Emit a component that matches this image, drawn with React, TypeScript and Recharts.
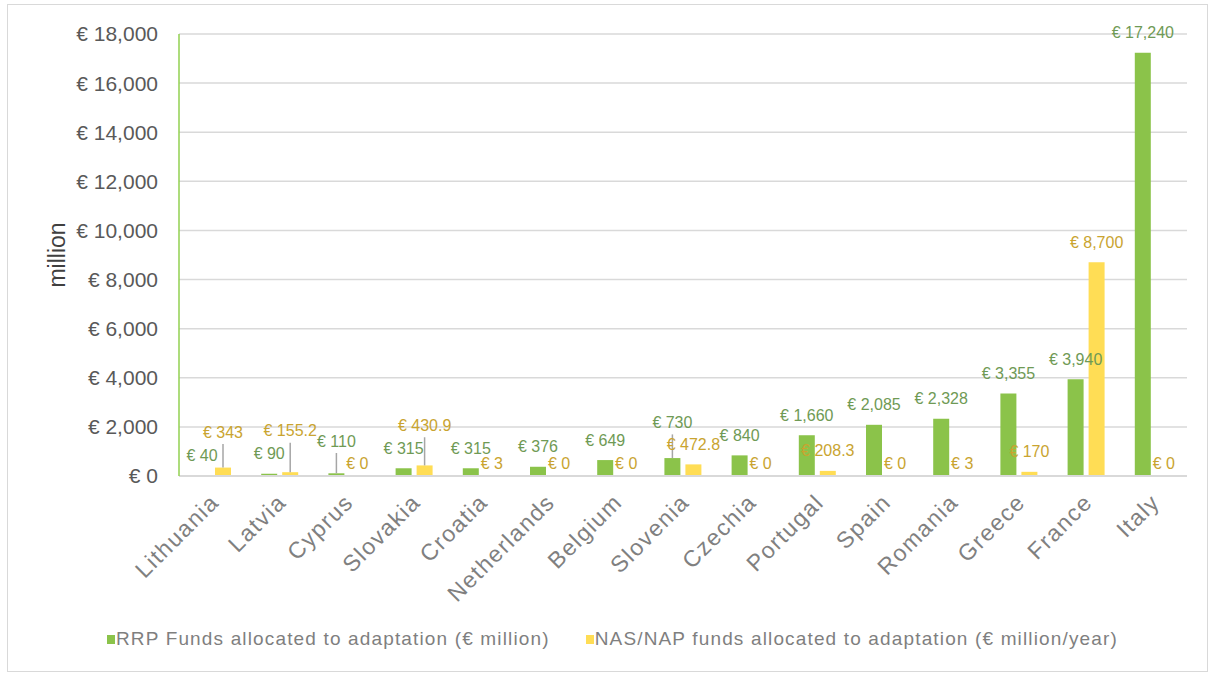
import { BarChart, Bar, XAxis, YAxis, CartesianGrid, Legend, LabelList, Label } from 'recharts';

const countries = ['Lithuania', 'Latvia', 'Cyprus', 'Slovakia', 'Croatia', 'Netherlands', 'Belgium', 'Slovenia', 'Czechia', 'Portugal', 'Spain', 'Romania', 'Greece', 'France', 'Italy'];
const rrpFunds = [40, 90, 110, 315, 315, 376, 649, 730, 840, 1660, 2085, 2328, 3355, 3940, 17240];
const nasFunds = [343, 155.2, 0, 430.9, 3, 0, 0, 472.8, 0, 208.3, 0, 3, 170, 8700, 0];
const yTicks = [0, 2000, 4000, 6000, 8000, 10000, 12000, 14000, 16000, 18000];

const GREEN = '#8bc34a';
const YELLOW = '#ffdd55';
const GREEN_TEXT = '#6f9a55';
const YELLOW_TEXT = '#c9a430';
const FONT = '"Liberation Sans", Arial, sans-serif';

const CHART_W = 1199;
const CHART_H = 666;
const TOP = 29;
const X_AXIS_H = 159;
const LEGEND_H = 36;
const PLOT_H = CHART_H - TOP - X_AXIS_H - LEGEND_H;
const Y_MAX = 18000;

const rrpLabel = 'RRP Funds allocated to adaptation (€ million)';
const nasLabel = 'NAS/NAP funds allocated to adaptation (€ million/year)';

const data = countries.map((name, i) => ({ name, rrp: rrpFunds[i], nas: nasFunds[i] }));

const euro = (v: number) => `€ ${v.toLocaleString('en-US')}`;

// where the two value labels of one country sit; the higher bar's label is
// lifted (with a leader line) when the two would collide
function labelSpots(i: number, baseline: number) {
  const k = PLOT_H / Y_MAX;
  const g = rrpFunds[i];
  const n = nasFunds[i];
  let gy = baseline - g * k - 20;
  let ny = n * k < 1 ? baseline - 13 : baseline - n * k - 20;
  let lifted: 'g' | 'n' | null = null;
  if (Math.abs(gy - ny) < 14) {
    if (n > g) {
      ny = gy - 23;
      lifted = 'n';
    } else {
      gy = ny - 22;
      lifted = 'g';
    }
  }
  return { gy, ny, lifted };
}

function GreenValue(props: any) {
  const { x, y, width, height, value, index } = props;
  const s = labelSpots(index, y + height);
  const cx = x + width / 2;
  return (
    <g>
      {s.lifted === 'g' && <line x1={cx} x2={cx} y1={s.gy + 12} y2={y} stroke="#a6a6a6" strokeWidth={1.5} />}
      <text x={cx} y={s.gy} dy="0.35em" textAnchor="middle" fill={GREEN_TEXT} fontSize={16} fontFamily={FONT}>
        {euro(value)}
      </text>
    </g>
  );
}

function YellowValue(props: any) {
  const { x, y, width, height, value, index } = props;
  const s = labelSpots(index, y + height);
  const cx = x + width / 2;
  return (
    <g>
      {s.lifted === 'n' && <line x1={cx} x2={cx} y1={s.ny + 12} y2={y} stroke="#a6a6a6" strokeWidth={1.5} />}
      <text x={cx} y={s.ny} dy="0.35em" textAnchor="middle" fill={YELLOW_TEXT} fontSize={16} fontFamily={FONT}>
        {euro(value)}
      </text>
    </g>
  );
}

function CountryTick(props: any) {
  const { x, y, payload } = props;
  return (
    <g transform={`translate(${x + 2},${y + 14})`}>
      <text x={0} y={0} dy="0.35em" textAnchor="end" transform="rotate(-45)" fill="#808080" fontSize={23} letterSpacing={1.5} fontFamily={FONT}>
        {payload.value}
      </text>
    </g>
  );
}

function MillionLabel(props: any) {
  const { viewBox } = props;
  const cy = viewBox.y + viewBox.height / 2;
  return (
    <text transform={`translate(49,${cy}) rotate(-90)`} dy="0.35em" textAnchor="middle" fill="#404040" fontSize={23} fontFamily={FONT}>
      million
    </text>
  );
}

function LegendBox() {
  const items = [
    { label: rrpLabel, color: GREEN },
    { label: nasLabel, color: YELLOW },
  ];
  return (
    <div style={{ display: 'flex', gap: 36, paddingLeft: 99, fontFamily: FONT, fontSize: 19, letterSpacing: 1.15, color: '#7f7f7f' }}>
      {items.map((it) => (
        <div key={it.label} style={{ display: 'flex', alignItems: 'center' }}>
          <span style={{ width: 8, height: 9, background: it.color, display: 'inline-block', marginRight: 1 }} />
          <span>{it.label}</span>
        </div>
      ))}
    </div>
  );
}

export default function App() {
  return (
    <div style={{ position: 'absolute', left: 7, top: 4, width: CHART_W, height: CHART_H, border: '1px solid #d9d9d9', background: '#fff' }}>
      <BarChart
        width={CHART_W}
        height={CHART_H}
        data={data}
        margin={{ top: TOP, right: 20, left: 0, bottom: 0 }}
        barSize={16}
        barGap={5}
      >
        <CartesianGrid vertical={false} stroke="#d9d9d9" strokeWidth={1.5} />
        <XAxis
          dataKey="name"
          interval={0}
          height={X_AXIS_H}
          tickLine={false}
          axisLine={{ stroke: '#d9d9d9', strokeWidth: 2 }}
          tick={<CountryTick />}
        />
        <YAxis
          width={171}
          domain={[0, Y_MAX]}
          ticks={yTicks}
          tickFormatter={euro}
          tickLine={false}
          tickSize={0}
          tickMargin={21}
          axisLine={{ stroke: '#92d050', strokeWidth: 1.5 }}
          tick={{ fill: '#595959', fontSize: 21, fontFamily: FONT }}
        >
          <Label content={<MillionLabel />} />
        </YAxis>
        <Legend
          verticalAlign="bottom"
          content={<LegendBox />}
          wrapperStyle={{ position: 'absolute', left: 0, top: 623, width: CHART_W, height: LEGEND_H }}
        />
        <Bar dataKey="rrp" name={rrpLabel} fill={GREEN} isAnimationActive={false}>
          <LabelList dataKey="rrp" content={<GreenValue />} />
        </Bar>
        <Bar dataKey="nas" name={nasLabel} fill={YELLOW} minPointSize={0.01} isAnimationActive={false}>
          <LabelList dataKey="nas" content={<YellowValue />} />
        </Bar>
      </BarChart>
    </div>
  );
}
